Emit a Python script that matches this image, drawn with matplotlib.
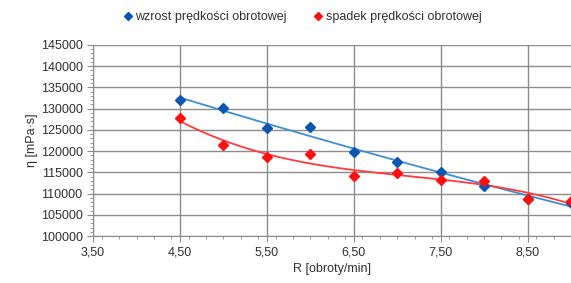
import numpy as np
import matplotlib.pyplot as plt
from matplotlib.ticker import MultipleLocator, FixedLocator, FuncFormatter

plt.rcParams['font.family'] = ['Liberation Sans', 'DejaVu Sans']

# predkosc obrotowa [obroty/min]
r_vals = [4.5, 5.0, 5.5, 6.0, 6.5, 7.0, 7.5, 8.0, 8.5, 9.0]
# lepkosc [mPa*s]
eta_up = [132100, 130100, 125500, 125600, 119900, 117500, 115100, 111800, 108700, 107800]
eta_down = [127700, 121500, 118500, 119300, 114200, 114800, 113200, 112900, 108700, 108200]
x_ticks = [3.5, 4.5, 5.5, 6.5, 7.5, 8.5]

label_up = "wzrost prędkości obrotowej"
label_down = "spadek prędkości obrotowej"

x = np.array(r_vals)
fig = plt.figure(figsize=(5.71, 2.83), dpi=100)
ax = fig.add_axes([0.163, 0.166, 0.837, 0.675])

# linie trendu (jak w Excelu)
xs = np.linspace(4.5, 9.0, 200)
p_up = np.polyfit(x, eta_up, 2)
ax.plot(xs, np.polyval(p_up, xs), color='#3f8fd2', lw=1.3, zorder=2)
p_down = np.polyfit(x, eta_down, 3)
ax.plot(xs, np.polyval(p_down, xs), color='#ff3b3b', lw=1.3, zorder=2)

ax.plot(x, eta_up, 'D', color='#0a56b0', ms=5, label=label_up, zorder=3)
ax.plot(x, eta_down, 'D', color='#ff1010', ms=5, label=label_down, zorder=3)

ax.set_xlim(3.5, 9.0)
ax.set_ylim(100000, 145000)
ax.xaxis.set_major_locator(FixedLocator(x_ticks))
ax.xaxis.set_minor_locator(MultipleLocator(0.2))
ax.yaxis.set_major_locator(MultipleLocator(5000))
ax.yaxis.set_minor_locator(MultipleLocator(1000))
ax.xaxis.set_major_formatter(FuncFormatter(lambda v, p: f"{v:.2f}".replace('.', ',')))
ax.yaxis.set_major_formatter(FuncFormatter(lambda v, p: f"{v:.0f}"))

ax.grid(True, which='major', color='#8c8c8c', lw=1.0)
ax.set_axisbelow(True)
for s in ['top', 'right']:
    ax.spines[s].set_visible(False)
for s in ['left', 'bottom']:
    ax.spines[s].set_color('#8c8c8c')
ax.tick_params(which='both', colors='#8c8c8c', labelcolor='#303030', labelsize=9)
ax.tick_params(which='major', length=4)
ax.tick_params(which='minor', length=2)

ax.set_xlabel("R [obroty/min]", fontsize=9, color='#303030', labelpad=3)
ax.set_ylabel("η [mPa·s]", fontsize=9, color='#303030', labelpad=2)

fig.legend(loc='upper center', bbox_to_anchor=(0.53, 1.0), ncol=2, frameon=False,
           fontsize=9, handlelength=0.6, handletextpad=0.3, columnspacing=2.2,
           markerscale=0.8, labelcolor='#303030')

fig.savefig("out.png", dpi=100)
